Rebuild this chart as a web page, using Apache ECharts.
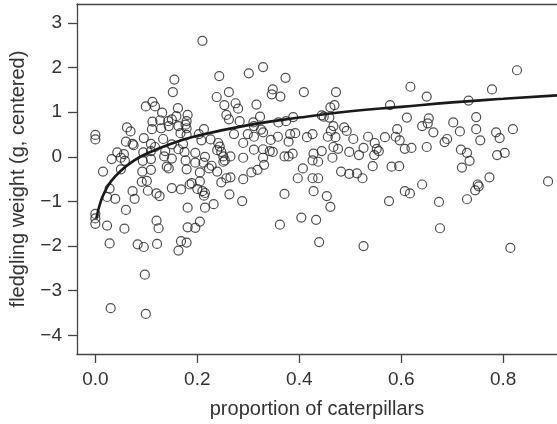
<!DOCTYPE html>
<html>
<head>
<meta charset="utf-8">
<script src="https://cdn.jsdelivr.net/npm/echarts@6/dist/echarts.min.js"></script>
<style>
  html, body { margin: 0; padding: 0; background: #fff; }
  #chart { width: 557px; height: 424px; }
</style>
</head>
<body>
<div id="chart"></div>
<script>
// proportion of caterpillars (x) for each nestling
const propCaterpillars = [
  0.155,0.152,0.112,0.099,0.117,0.162,0.131,0.159,0.150,0.112,
  0.127,0.143,0.062,0.069,0.111,0.129,0.144,0.163,0.000,0.000,
  0.167,0.095,0.133,0.060,0.073,0.075,0.109,0.117,0.150,0.163,
  0.043,0.056,0.094,0.109,0.137,0.032,0.050,0.058,0.093,0.109,
  0.135,0.150,0.015,0.050,0.092,0.109,0.140,0.144,0.091,0.101,
  0.181,0.179,0.177,0.179,0.179,0.172,0.175,0.177,0.179,0.028,
  0.023,0.039,0.073,0.077,0.103,0.120,0.126,0.150,0.168,0.185,
  0.000,0.000,0.000,0.060,0.181,0.023,0.057,0.120,0.124,0.181,
  0.028,0.083,0.095,0.121,0.168,0.179,0.163,0.097,0.030,0.099,
  0.210,0.243,0.301,0.329,0.373,0.262,0.238,0.348,0.346,0.363,
  0.409,0.253,0.275,0.280,0.316,0.257,0.262,0.283,0.323,0.310,
  0.311,0.359,0.374,0.388,0.213,0.203,0.208,0.325,0.329,0.272,
  0.299,0.311,0.344,0.358,0.379,0.382,0.392,0.415,0.226,0.241,
  0.244,0.290,0.239,0.247,0.311,0.329,0.342,0.348,0.371,0.379,
  0.387,0.196,0.215,0.251,0.265,0.290,0.329,0.196,0.212,0.228,
  0.223,0.251,0.254,0.331,0.205,0.239,0.306,0.318,0.407,0.397,
  0.257,0.265,0.290,0.189,0.205,0.247,0.200,0.210,0.215,0.213,
  0.263,0.288,0.215,0.232,0.205,0.196,0.371,0.362,0.404,
  0.472,0.618,0.469,0.461,0.578,0.444,0.448,0.459,0.611,0.467,
  0.462,0.488,0.493,0.426,0.456,0.471,0.506,0.535,0.568,0.589,
  0.592,0.597,0.548,0.552,0.556,0.467,0.476,0.526,0.607,0.620,
  0.444,0.428,0.437,0.426,0.498,0.517,0.547,0.465,0.544,0.581,
  0.596,0.482,0.498,0.513,0.524,0.426,0.437,0.428,0.454,0.461,
  0.433,0.439,0.526,0.576,0.607,0.617,
  0.827,0.778,0.650,0.732,0.654,0.652,0.641,0.663,0.702,0.715,
  0.747,0.747,0.755,0.786,0.793,0.819,0.650,0.690,0.685,0.717,
  0.729,0.734,0.719,0.788,0.803,0.773,0.750,0.888,0.641,0.674,
  0.729,0.745,0.752,0.676,0.814
];

// fledgling weight (g, centered), same order
const weightCentered = [
  1.73,1.45,1.23,1.13,1.13,1.09,0.99,0.91,0.84,0.79,
  0.82,0.80,0.66,0.57,0.62,0.64,0.69,0.69,0.49,0.39,
  0.53,0.42,0.40,0.34,0.29,0.26,0.29,0.22,0.28,0.17,
  0.10,0.06,0.10,0.13,0.13,-0.05,-0.02,-0.09,-0.09,-0.05,
  0.01,-0.04,-0.33,-0.28,-0.33,-0.29,-0.22,-0.26,-0.56,-0.54,
  0.94,0.80,0.72,0.64,0.49,0.29,0.11,-0.08,-0.28,-0.71,
  -0.90,-0.94,-0.77,-0.94,-0.76,-0.82,-0.88,-0.70,-0.73,-0.62,
  -1.28,-1.38,-1.50,-1.19,-1.14,-1.54,-1.61,-1.43,-1.60,-1.58,
  -1.94,-1.96,-2.02,-1.95,-1.89,-1.92,-2.10,-2.64,-3.39,-3.52,
  2.60,1.81,1.87,2.01,1.77,1.45,1.34,1.51,1.40,1.35,
  1.45,1.16,1.20,1.08,1.17,0.94,0.84,0.80,0.90,0.77,
  0.69,0.77,0.80,0.89,0.62,0.51,0.37,0.61,0.55,0.51,
  0.51,0.45,0.38,0.45,0.34,0.51,0.53,0.44,0.39,0.31,
  0.23,0.31,0.15,0.11,0.16,0.17,0.13,0.11,0.01,0.01,
  0.07,0.09,0.00,0.01,0.01,-0.02,-0.02,-0.13,-0.13,-0.20,
  -0.26,-0.11,-0.08,-0.18,-0.35,-0.33,-0.35,-0.29,-0.26,-0.48,
  -0.48,-0.46,-0.50,-0.59,-0.55,-0.57,-0.72,-0.77,-0.81,-0.87,
  -0.84,-0.99,-1.14,-1.06,-1.45,-1.59,-0.83,-1.52,-1.36,
  1.45,1.57,1.16,1.11,1.16,0.93,0.90,0.88,0.88,0.69,
  0.58,0.66,0.58,0.51,0.45,0.44,0.40,0.45,0.44,0.45,
  0.62,0.37,0.31,0.18,0.13,0.22,0.18,0.20,0.18,0.20,
  0.13,0.07,-0.11,-0.08,0.11,0.04,0.04,-0.02,-0.21,-0.22,
  -0.21,-0.33,-0.38,-0.37,-0.48,-0.48,-0.48,-0.77,-0.88,-1.12,
  -1.41,-1.91,-2.00,-0.99,-0.77,-0.82,
  1.94,1.51,1.35,1.26,0.86,0.75,0.69,0.55,0.77,0.57,
  0.89,0.62,0.37,0.55,0.42,0.62,0.22,0.40,0.33,0.16,
  0.09,-0.09,-0.24,0.04,0.09,-0.46,-0.62,-0.55,-0.62,-1.01,
  -0.95,-0.75,-0.66,-1.60,-2.04
];

// fitted curve
const curveX = [0.002, 0.01, 0.02, 0.03, 0.05, 0.075, 0.1, 0.15, 0.2, 0.3, 0.4, 0.5, 0.6, 0.7, 0.8, 0.91];
const curveY = [-1.38, -1.02, -0.75, -0.56, -0.31, -0.09, 0.07, 0.30, 0.47, 0.71, 0.88, 1.02, 1.12, 1.22, 1.30, 1.38];

// tick marks
const xTickValues = [0, 0.2, 0.4, 0.6, 0.8];
const xTickLabels = ['0.0', '0.2', '0.4', '0.6', '0.8'];
const yTickValues = [3, 2, 1, 0, -1, -2, -3, -4];
const yTickLabels = ['3', '2', '1', '0', '\u22121', '\u22122', '\u22123', '\u22124'];

const FONT = '"Liberation Sans", Arial, Helvetica, sans-serif';
const AXIS_COLOR = '#444';
const TEXT_COLOR = '#333';

const chart = echarts.init(document.getElementById('chart'), null, { renderer: 'canvas' });

const points = propCaterpillars.map((x, i) => [x, weightCentered[i]]);
const curve = curveX.map((x, i) => [x, curveY[i]]);

chart.setOption({
  animation: false,
  backgroundColor: '#fff',
  grid: { left: 75, right: 0, top: 4, bottom: 63, containLabel: false },
  xAxis: [
    {
      type: 'value',
      min: -0.036,
      max: 0.9055,
      position: 'bottom',
      name: 'proportion of caterpillars',
      nameLocation: 'middle',
      nameGap: 45,
      nameTextStyle: { fontFamily: FONT, fontSize: 20, color: TEXT_COLOR },
      axisLine: { show: true, onZero: false, lineStyle: { color: AXIS_COLOR, width: 1.3 } },
      axisTick: { show: true, length: 9, customValues: xTickValues, lineStyle: { color: AXIS_COLOR, width: 1.3 } },
      axisLabel: {
        customValues: xTickValues,
        margin: 16,
        fontFamily: FONT, fontSize: 19, color: TEXT_COLOR,
        formatter: v => xTickLabels[xTickValues.indexOf(v)] ?? ''
      },
      splitLine: { show: false }
    },
    {
      // top edge of the box
      type: 'value',
      min: -0.036,
      max: 0.9055,
      position: 'top',
      axisLine: { show: true, onZero: false, lineStyle: { color: AXIS_COLOR, width: 1.3 } },
      axisTick: { show: false },
      axisLabel: { show: false },
      splitLine: { show: false }
    }
  ],
  yAxis: {
    type: 'value',
    min: -4.417,
    max: 3.424,
    name: 'fledgling weight (g, centered)',
    nameLocation: 'middle',
    nameGap: 49,
    nameTextStyle: { fontFamily: FONT, fontSize: 20, color: TEXT_COLOR },
    axisLine: { show: true, onZero: false, lineStyle: { color: AXIS_COLOR, width: 1.3 } },
    axisTick: { show: true, length: 9, customValues: yTickValues, lineStyle: { color: AXIS_COLOR, width: 1.3 } },
    axisLabel: {
      customValues: yTickValues,
      margin: 15,
      fontFamily: FONT, fontSize: 19, color: TEXT_COLOR,
      formatter: v => yTickLabels[yTickValues.indexOf(v)] ?? ''
    },
    splitLine: { show: false }
  },
  series: [
    {
      type: 'scatter',
      data: points,
      symbol: 'circle',
      symbolSize: 9,
      itemStyle: { color: 'rgba(0,0,0,0)', borderColor: '#222', borderWidth: 1.2 },
      emphasis: { disabled: true },
      z: 2
    },
    {
      type: 'line',
      data: curve,
      smooth: true,
      showSymbol: false,
      lineStyle: { color: '#1a1a1a', width: 2.6 },
      emphasis: { disabled: true },
      z: 3
    }
  ]
});
</script>
</body>
</html>
